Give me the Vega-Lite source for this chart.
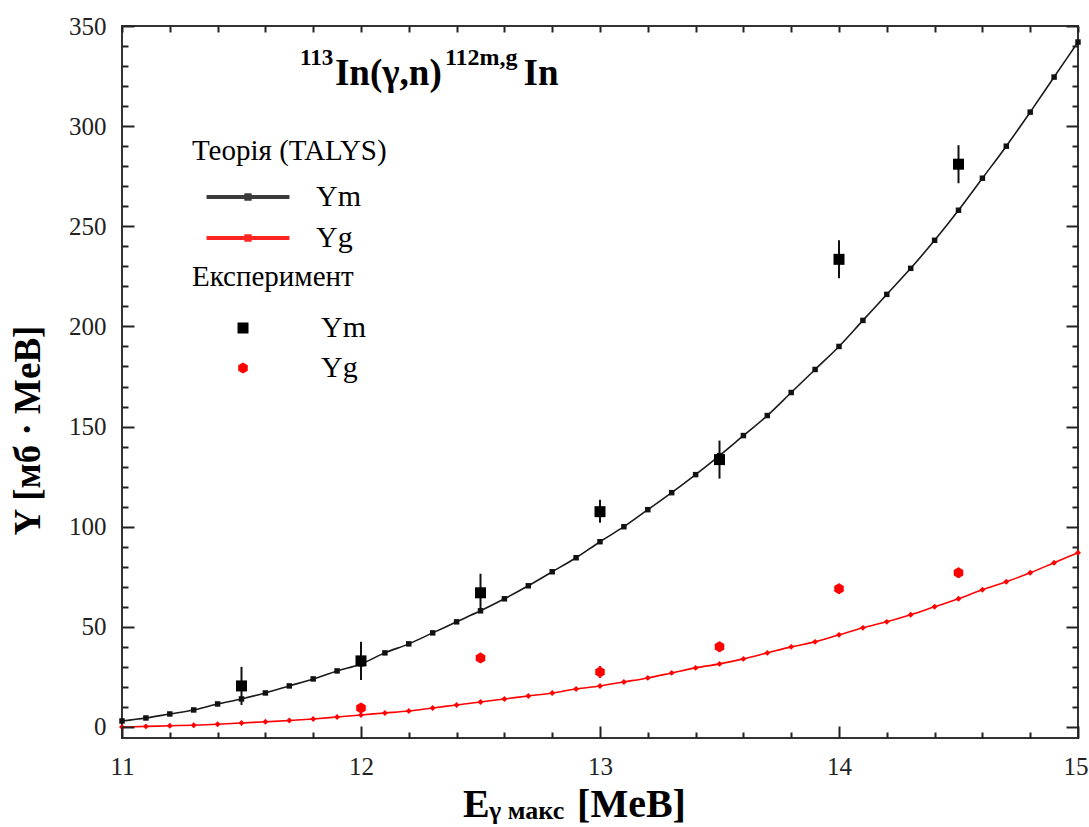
{
  "$schema": "https://vega.github.io/schema/vega-lite/v6.json",
  "width": 956,
  "height": 712,
  "autosize": {"type": "none"},
  "padding": {"left": 122, "top": 26, "right": 11, "bottom": 89},
  "background": "white",
  "config": {
    "view": {"stroke": "#333", "strokeWidth": 2},
    "font": "Liberation Serif",
    "axis": {"domainColor": "#333", "domainWidth": 2, "tickColor": "#222", "tickWidth": 2, "tickOpacity": 1, "ticks": true, "labelFont": "Liberation Serif", "labelFontSize": 25, "labelColor": "#222", "grid": false, "zindex": 2}
  },
  "datasets": {
    "theory": [
      {"E": 11.0, "series": "Ym", "Y": 3}, {"E": 11.1, "series": "Ym", "Y": 4.5}, {"E": 11.2, "series": "Ym", "Y": 6.5}, {"E": 11.3, "series": "Ym", "Y": 8.5}, {"E": 11.4, "series": "Ym", "Y": 11.5}, {"E": 11.5, "series": "Ym", "Y": 14}, {"E": 11.6, "series": "Ym", "Y": 17}, {"E": 11.7, "series": "Ym", "Y": 20.5}, {"E": 11.8, "series": "Ym", "Y": 24}, {"E": 11.9, "series": "Ym", "Y": 28}, {"E": 12.0, "series": "Ym", "Y": 31.5}, {"E": 12.1, "series": "Ym", "Y": 37}, {"E": 12.2, "series": "Ym", "Y": 41.5}, {"E": 12.3, "series": "Ym", "Y": 47}, {"E": 12.4, "series": "Ym", "Y": 52.5}, {"E": 12.5, "series": "Ym", "Y": 58}, {"E": 12.6, "series": "Ym", "Y": 64}, {"E": 12.7, "series": "Ym", "Y": 70.5}, {"E": 12.8, "series": "Ym", "Y": 77.5}, {"E": 12.9, "series": "Ym", "Y": 84.5}, {"E": 13.0, "series": "Ym", "Y": 92.5}, {"E": 13.1, "series": "Ym", "Y": 100}, {"E": 13.2, "series": "Ym", "Y": 108.5}, {"E": 13.3, "series": "Ym", "Y": 117}, {"E": 13.4, "series": "Ym", "Y": 126}, {"E": 13.5, "series": "Ym", "Y": 135.5}, {"E": 13.6, "series": "Ym", "Y": 145.5}, {"E": 13.7, "series": "Ym", "Y": 155.5}, {"E": 13.8, "series": "Ym", "Y": 167}, {"E": 13.9, "series": "Ym", "Y": 178.5}, {"E": 14.0, "series": "Ym", "Y": 190}, {"E": 14.1, "series": "Ym", "Y": 203}, {"E": 14.2, "series": "Ym", "Y": 216}, {"E": 14.3, "series": "Ym", "Y": 229}, {"E": 14.4, "series": "Ym", "Y": 243}, {"E": 14.5, "series": "Ym", "Y": 258}, {"E": 14.6, "series": "Ym", "Y": 274}, {"E": 14.7, "series": "Ym", "Y": 290}, {"E": 14.8, "series": "Ym", "Y": 307}, {"E": 14.9, "series": "Ym", "Y": 324.5}, {"E": 15.0, "series": "Ym", "Y": 342},
      {"E": 11.0, "series": "Yg", "Y": 0}, {"E": 11.1, "series": "Yg", "Y": 0.3}, {"E": 11.2, "series": "Yg", "Y": 0.6}, {"E": 11.3, "series": "Yg", "Y": 0.9}, {"E": 11.4, "series": "Yg", "Y": 1.4}, {"E": 11.5, "series": "Yg", "Y": 2}, {"E": 11.6, "series": "Yg", "Y": 2.6}, {"E": 11.7, "series": "Yg", "Y": 3.2}, {"E": 11.8, "series": "Yg", "Y": 4}, {"E": 11.9, "series": "Yg", "Y": 5}, {"E": 12.0, "series": "Yg", "Y": 6}, {"E": 12.1, "series": "Yg", "Y": 7}, {"E": 12.2, "series": "Yg", "Y": 8}, {"E": 12.3, "series": "Yg", "Y": 9.5}, {"E": 12.4, "series": "Yg", "Y": 11}, {"E": 12.5, "series": "Yg", "Y": 12.5}, {"E": 12.6, "series": "Yg", "Y": 14}, {"E": 12.7, "series": "Yg", "Y": 15.5}, {"E": 12.8, "series": "Yg", "Y": 17}, {"E": 12.9, "series": "Yg", "Y": 19}, {"E": 13.0, "series": "Yg", "Y": 20.5}, {"E": 13.1, "series": "Yg", "Y": 22.5}, {"E": 13.2, "series": "Yg", "Y": 24.5}, {"E": 13.3, "series": "Yg", "Y": 27}, {"E": 13.4, "series": "Yg", "Y": 29.5}, {"E": 13.5, "series": "Yg", "Y": 31.5}, {"E": 13.6, "series": "Yg", "Y": 34}, {"E": 13.7, "series": "Yg", "Y": 37}, {"E": 13.8, "series": "Yg", "Y": 40}, {"E": 13.9, "series": "Yg", "Y": 42.5}, {"E": 14.0, "series": "Yg", "Y": 46}, {"E": 14.1, "series": "Yg", "Y": 49.5}, {"E": 14.2, "series": "Yg", "Y": 52.5}, {"E": 14.3, "series": "Yg", "Y": 56}, {"E": 14.4, "series": "Yg", "Y": 60}, {"E": 14.5, "series": "Yg", "Y": 64}, {"E": 14.6, "series": "Yg", "Y": 68.5}, {"E": 14.7, "series": "Yg", "Y": 72.5}, {"E": 14.8, "series": "Yg", "Y": 77}, {"E": 14.9, "series": "Yg", "Y": 82}, {"E": 15.0, "series": "Yg", "Y": 87}
    ],
    "exp": [
      {"E": 11.5, "series": "Ym", "Y": 20.5, "lo": 11, "hi": 30},
      {"E": 12.0, "series": "Ym", "Y": 33, "lo": 23.5, "hi": 42.5},
      {"E": 12.5, "series": "Ym", "Y": 67, "lo": 57.5, "hi": 76.5},
      {"E": 13.0, "series": "Ym", "Y": 107.5, "lo": 102, "hi": 113.5},
      {"E": 13.5, "series": "Ym", "Y": 133.5, "lo": 124, "hi": 143},
      {"E": 14.0, "series": "Ym", "Y": 233.5, "lo": 224, "hi": 243},
      {"E": 14.5, "series": "Ym", "Y": 281, "lo": 271.5, "hi": 290.5},
      {"E": 12.0, "series": "Yg", "Y": 9.5, "lo": 7, "hi": 12},
      {"E": 12.5, "series": "Yg", "Y": 34.5, "lo": 32, "hi": 37},
      {"E": 13.0, "series": "Yg", "Y": 27.5, "lo": 24.5, "hi": 30.5},
      {"E": 13.5, "series": "Yg", "Y": 40, "lo": 37.5, "hi": 42.5},
      {"E": 14.0, "series": "Yg", "Y": 69, "lo": 66.5, "hi": 71.5},
      {"E": 14.5, "series": "Yg", "Y": 77, "lo": 74.5, "hi": 79.5}
    ]
  },
  "resolve": {
    "scale": {"color": "independent", "shape": "independent"},
    "axis": {"x": "independent", "y": "independent"}
  },
  "layer": [
    {
      "data": {"name": "theory"},
      "mark": {"type": "line", "strokeWidth": 1.6, "interpolate": "monotone"},
      "encoding": {
        "x": {"field": "E", "type": "quantitative", "scale": {"domain": [11, 15], "nice": false, "zero": false},
          "axis": {"orient": "bottom", "values": [11, 11.2, 11.4, 11.6, 11.8, 12, 12.2, 12.4, 12.6, 12.8, 13, 13.2, 13.4, 13.6, 13.8, 14, 14.2, 14.4, 14.6, 14.8, 15],
            "labelExpr": "abs(datum.value - round(datum.value)) < 0.001 ? format(datum.value, 'd') : ''",
            "ticks": true, "tickColor": "#222", "tickWidth": 2, "tickOpacity": 1, "zindex": 2,
            "tickSize": {"condition": {"test": "abs(datum.value - round(datum.value)) < 0.001", "value": -12}, "value": -6},
            "domain": false, "labelPadding": 28, "labelFlush": false, "title": null, "labelFont": "Liberation Serif", "labelFontSize": 25, "labelColor": "#222",
            "labelAlign": {"condition": {"test": "datum.value >= 15", "value": "right"}, "value": "center"},
            "labelOffset": {"condition": {"test": "datum.value >= 15", "value": 10}, "value": 0}}},
        "y": {"field": "Y", "type": "quantitative", "scale": {"domain": [-5.5, 350], "nice": false, "zero": false},
          "axis": {"orient": "left", "values": [0, 10, 20, 30, 40, 50, 60, 70, 80, 90, 100, 110, 120, 130, 140, 150, 160, 170, 180, 190, 200, 210, 220, 230, 240, 250, 260, 270, 280, 290, 300, 310, 320, 330, 340, 350],
            "labelExpr": "datum.value % 50 === 0 ? datum.label : ''",
            "ticks": true, "tickColor": "#222", "tickWidth": 2, "tickOpacity": 1, "zindex": 2,
            "tickSize": {"condition": {"test": "datum.value % 50 === 0", "value": -12}, "value": -6},
            "domain": false, "labelPadding": 28, "labelFlush": false, "labelFont": "Liberation Serif", "labelFontSize": 25, "labelColor": "#222",
            "title": "Y [мб · MeB]", "titleFont": "Liberation Serif", "titleFontSize": 37, "titleFontWeight": "bold", "titleColor": "#000",
            "titleAngle": 270, "titleX": -83, "titleY": 404, "titleAlign": "center", "titleBaseline": "alphabetic"}},
        "color": {"field": "series", "type": "nominal", "scale": {"domain": ["Ym", "Yg"], "range": ["#1a1a1a", "#ff0000"]},
          "legend": {"title": "Теорія (TALYS)", "orient": "none", "legendX": 70, "legendY": 111, "padding": 0, "titleLimit": 500, "labelLimit": 300,
            "titleFont": "Liberation Serif", "titleFontSize": 29, "titleFontWeight": "normal", "titleColor": "#000", "titlePadding": 16,
            "labelFont": "Liberation Serif", "labelFontSize": 30, "labelColor": "#000",
            "symbolType": "M-5,0H5M-0.2,-0.2H0.2V0.2H-0.2Z", "symbolSize": 275, "symbolStrokeWidth": 4, "symbolOffset": 41, "labelOffset": 53, "rowPadding": 11,
            "encode": {"symbols": {"update": {"strokeWidth": {"value": 4}, "opacity": {"value": 0.85}}}}}}
      }
    },
    {
      "data": {"name": "theory"},
      "transform": [{"filter": "datum.series === 'Ym'"}],
      "mark": {"type": "point", "shape": "square", "filled": true, "size": 30, "color": "#111", "opacity": 1},
      "encoding": {
        "x": {"field": "E", "type": "quantitative", "axis": {"orient": "top", "values": [11, 11.2, 11.4, 11.6, 11.8, 12, 12.2, 12.4, 12.6, 12.8, 13, 13.2, 13.4, 13.6, 13.8, 14, 14.2, 14.4, 14.6, 14.8, 15],
            "labels": false, "domain": false, "title": null, "ticks": true, "tickColor": "#222", "tickWidth": 2, "tickOpacity": 1, "zindex": 2, "tickSize": -6}},
        "y": {"field": "Y", "type": "quantitative", "axis": {"orient": "right", "values": [0, 10, 20, 30, 40, 50, 60, 70, 80, 90, 100, 110, 120, 130, 140, 150, 160, 170, 180, 190, 200, 210, 220, 230, 240, 250, 260, 270, 280, 290, 300, 310, 320, 330, 340, 350],
            "labels": false, "domain": false, "title": null, "ticks": true, "tickColor": "#222", "tickWidth": 2, "tickOpacity": 1, "zindex": 2,
            "tickSize": {"condition": {"test": "datum.value % 50 === 0", "value": -12}, "value": -6}}}
      }
    },
    {
      "data": {"name": "theory"},
      "transform": [{"filter": "datum.series === 'Yg'"}],
      "mark": {"type": "point", "shape": "diamond", "filled": true, "size": 35, "color": "#ff0000", "opacity": 1},
      "encoding": {
        "x": {"field": "E", "type": "quantitative", "axis": null},
        "y": {"field": "Y", "type": "quantitative", "axis": null}
      }
    },
    {
      "data": {"name": "exp"},
      "mark": {"type": "rule", "strokeWidth": 2},
      "encoding": {
        "x": {"field": "E", "type": "quantitative", "axis": null},
        "y": {"field": "lo", "type": "quantitative", "axis": null},
        "y2": {"field": "hi"},
        "color": {"field": "series", "type": "nominal", "scale": {"domain": ["Ym", "Yg"], "range": ["#111", "#ff0000"]}, "legend": null}
      }
    },
    {
      "data": {"name": "exp"},
      "mark": {"type": "point", "filled": true, "size": 121, "opacity": 1},
      "encoding": {
        "x": {"field": "E", "type": "quantitative", "axis": null},
        "y": {"field": "Y", "type": "quantitative", "axis": null},
        "color": {"field": "series", "type": "nominal", "scale": {"domain": ["Ym", "Yg"], "range": ["#000", "#ff0000"]},
          "legend": {"title": "Експеримент", "orient": "none", "legendX": 70, "legendY": 237, "padding": 0, "titleLimit": 500,
            "titleFont": "Liberation Serif", "titleFontSize": 29, "titleFontWeight": "normal", "titleColor": "#000", "titlePadding": 21,
            "labelFont": "Liberation Serif", "labelFontSize": 30, "labelColor": "#000",
            "symbolSize": 121, "symbolOffset": 36, "labelOffset": 63, "rowPadding": 10}},
        "shape": {"field": "series", "type": "nominal", "scale": {"domain": ["Ym", "Yg"], "range": ["square", "M0,-1L0.866,-0.5L0.866,0.5L0,1L-0.866,0.5L-0.866,-0.5Z"]},
          "legend": {"title": "Експеримент", "orient": "none", "legendX": 70, "legendY": 237, "padding": 0, "titleLimit": 500,
            "titleFont": "Liberation Serif", "titleFontSize": 29, "titleFontWeight": "normal", "titleColor": "#000", "titlePadding": 21,
            "labelFont": "Liberation Serif", "labelFontSize": 30, "labelColor": "#000",
            "symbolSize": 121, "symbolOffset": 36, "labelOffset": 63, "rowPadding": 10}}
      }
    },
    {
      "data": {"values": [{}]},
      "mark": {"type": "text", "text": "113", "font": "Liberation Serif", "fontWeight": "bold", "fontSize": 23, "align": "left", "baseline": "alphabetic", "color": "#000"},
      "encoding": {"x": {"datum": 11.745, "type": "quantitative", "axis": null}, "y": {"datum": 330.5, "type": "quantitative", "axis": null}}
    },
    {
      "data": {"values": [{}]},
      "mark": {"type": "text", "text": "In(γ,n)", "font": "Liberation Serif", "fontWeight": "bold", "fontSize": 37, "align": "left", "baseline": "alphabetic", "color": "#000"},
      "encoding": {"x": {"datum": 11.891, "type": "quantitative", "axis": null}, "y": {"datum": 320.5, "type": "quantitative", "axis": null}}
    },
    {
      "data": {"values": [{}]},
      "mark": {"type": "text", "text": "112m,g", "font": "Liberation Serif", "fontWeight": "bold", "fontSize": 24, "align": "left", "baseline": "alphabetic", "color": "#000"},
      "encoding": {"x": {"datum": 12.351, "type": "quantitative", "axis": null}, "y": {"datum": 330.5, "type": "quantitative", "axis": null}}
    },
    {
      "data": {"values": [{}]},
      "mark": {"type": "text", "text": "In", "font": "Liberation Serif", "fontWeight": "bold", "fontSize": 37, "align": "left", "baseline": "alphabetic", "color": "#000"},
      "encoding": {"x": {"datum": 12.68, "type": "quantitative", "axis": null}, "y": {"datum": 320.5, "type": "quantitative", "axis": null}}
    },
    {
      "data": {"values": [{}]},
      "mark": {"type": "text", "text": "E", "font": "Liberation Serif", "fontWeight": "bold", "fontSize": 40, "align": "left", "baseline": "alphabetic", "color": "#000"},
      "encoding": {"x": {"datum": 12.427, "type": "quantitative", "axis": null}, "y": {"datum": -45, "type": "quantitative", "axis": null}}
    },
    {
      "data": {"values": [{}]},
      "mark": {"type": "text", "text": "γ макс", "font": "Liberation Serif", "fontWeight": "bold", "fontSize": 26, "align": "left", "baseline": "alphabetic", "color": "#000"},
      "encoding": {"x": {"datum": 12.536, "type": "quantitative", "axis": null}, "y": {"datum": -46, "type": "quantitative", "axis": null}}
    },
    {
      "data": {"values": [{}]},
      "mark": {"type": "text", "text": "[MeB]", "font": "Liberation Serif", "fontWeight": "bold", "fontSize": 40, "align": "left", "baseline": "alphabetic", "color": "#000"},
      "encoding": {"x": {"datum": 12.904, "type": "quantitative", "axis": null}, "y": {"datum": -45, "type": "quantitative", "axis": null}}
    }
  ]
}
